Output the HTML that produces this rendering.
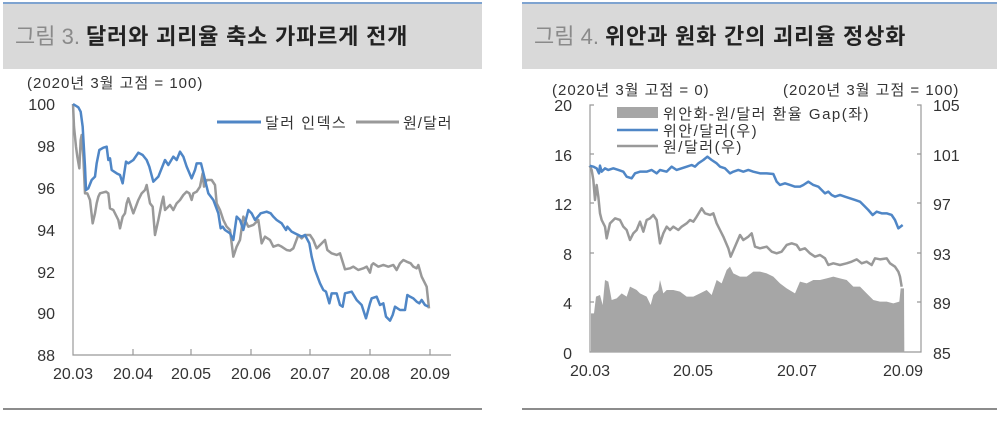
<!DOCTYPE html>
<html><head><meta charset="utf-8"><style>
body{margin:0;background:#fff;width:1000px;height:416px;overflow:hidden;font-family:"Liberation Sans","Noto Sans CJK KR",sans-serif}
svg text{font-family:"Liberation Sans","Noto Sans CJK KR",sans-serif}
</style></head><body>
<svg width="1000" height="416" xmlns="http://www.w3.org/2000/svg">
<rect x="3" y="3" width="479" height="66" fill="#d9d9d9"/>
<rect x="3" y="2" width="479" height="2" fill="#7ea3d0"/>
<rect x="522" y="3" width="475" height="66" fill="#d9d9d9"/>
<rect x="522" y="2" width="475" height="2" fill="#7ea3d0"/>
<text x="15" y="44" font-size="22" fill="#8a8a8a">그림 3.</text>
<text x="86" y="44" font-size="22" font-weight="bold" fill="#222" letter-spacing="0.8">달러와 괴리율 축소 가파르게 전개</text>
<text x="534" y="44" font-size="22" fill="#8a8a8a">그림 4.</text>
<text x="605" y="44" font-size="22" font-weight="bold" fill="#222" letter-spacing="0.8">위안과 원화 간의 괴리율 정상화</text>
<rect x="3" y="408" width="479" height="2" fill="#8c8c8c"/>
<rect x="522" y="408" width="475" height="2" fill="#8c8c8c"/>

<g font-size="16" fill="#333">
<text x="27" y="88" font-size="15" letter-spacing="1">(2020년 3월 고점 = 100)</text>
<g text-anchor="end"><text x="55" y="110">100</text><text x="55" y="152">98</text><text x="55" y="194">96</text><text x="55" y="236">94</text><text x="55" y="278">92</text><text x="55" y="319">90</text><text x="55" y="361">88</text></g>
<g text-anchor="middle"><text x="73" y="379">20.03</text><text x="133" y="379">20.04</text><text x="191" y="379">20.05</text><text x="251" y="379">20.06</text><text x="310" y="379">20.07</text><text x="370" y="379">20.08</text><text x="430" y="379">20.09</text></g>
</g>
<g stroke="#999" stroke-width="1.2" fill="none">
<path d="M73 104V355H451"/>
<path d="M133 349V355M191 349V355M251 349V355M310 349V355M370 349V355M430 349V355"/>
</g>
<line x1="217" y1="122" x2="261" y2="122" stroke="#4f86c6" stroke-width="3"/>
<text x="265" y="128" font-size="15" fill="#333" letter-spacing="1.5">달러 인덱스</text>
<line x1="356" y1="122" x2="399" y2="122" stroke="#999" stroke-width="3"/>
<text x="403" y="128" font-size="15" fill="#333" letter-spacing="1">원/달러</text>
<g transform="scale(0.33333)" fill="none" stroke-width="7.5" stroke-linejoin="round">
<polyline stroke="#999" points="219,312 222,380 228,440 232,470 238,505 242,420 245,405 250,470 255,580 262,580 270,600 278,670 285,640 290,610 295,590 300,580 318,575 325,580 330,625 340,630 355,660 360,685 368,650 375,640 380,610 385,595 390,610 400,640 415,600 425,580 435,570 440,555 450,610 458,620 465,705 475,660 485,610 490,590 495,630 510,615 520,630 530,610 540,600 550,585 560,575 568,580 575,600 580,580 590,575 600,560 608,520 612,560 620,540 635,540 645,555 650,610 660,630 670,660 680,680 690,690 700,770 710,740 720,720 730,650 740,670 745,680 760,675 775,660 785,730 795,710 810,720 820,740 835,735 845,740 860,750 870,752 880,745 895,705 905,715 915,705 930,705 940,720 950,745 965,730 975,720 982,750 995,760 1010,765 1020,760 1035,808 1050,805 1060,800 1075,810 1090,805 1100,800 1110,818 1115,795 1120,790 1135,800 1150,795 1165,800 1180,795 1190,810 1200,790 1210,780 1220,785 1232,790 1240,800 1250,805 1255,795 1265,830 1275,850 1280,860 1287,925"/>
<polyline stroke="#4f86c6" points="219,312 235,322 242,335 248,380 255,500 258,570 265,565 275,540 285,530 290,490 298,450 310,443 320,440 325,480 330,475 335,510 350,520 360,525 368,550 378,485 385,490 400,480 415,458 428,465 440,480 448,500 460,545 475,530 495,480 505,495 520,470 530,480 540,455 550,470 560,500 575,535 585,510 590,490 603,490 608,510 620,560 625,580 640,600 655,640 662,685 668,680 675,690 690,700 700,720 710,650 720,660 730,690 745,630 755,640 765,660 778,645 782,640 800,635 812,640 820,650 830,660 845,670 858,690 862,680 875,695 885,700 895,705 905,710 915,705 928,730 935,770 945,810 960,850 970,870 978,875 988,910 995,880 1010,880 1020,915 1028,920 1035,880 1055,875 1070,900 1085,915 1098,955 1110,910 1115,895 1130,890 1140,915 1150,910 1158,950 1170,962 1178,945 1185,920 1200,930 1215,930 1222,885 1230,890 1240,895 1250,905 1258,910 1265,900 1275,915 1285,920"/>
</g>

<g font-size="16" fill="#333">
<text x="552" y="95" font-size="15" letter-spacing="1">(2020년 3월 고점 = 0)</text>
<text x="783" y="95" font-size="15" letter-spacing="1">(2020년 3월 고점 = 100)</text>
<g text-anchor="end"><text x="572" y="111">20</text><text x="572" y="161">16</text><text x="572" y="210">12</text><text x="572" y="260">8</text><text x="572" y="309">4</text><text x="572" y="359">0</text></g>
<g><text x="933" y="111">105</text><text x="933" y="161">101</text><text x="933" y="210">97</text><text x="933" y="260">93</text><text x="933" y="309">89</text><text x="933" y="359">85</text></g>
<g text-anchor="middle"><text x="590" y="376">20.03</text><text x="693" y="376">20.05</text><text x="797" y="376">20.07</text><text x="903" y="376">20.09</text></g>
</g>
<g stroke="#999" stroke-width="1.2" fill="none">
<path d="M594 105H590V352H921V105H917"/>
<path d="M590 154H594M590 203H594M590 253H594M590 302H594M921 154H917M921 203H917M921 253H917M921 302H917M693 352V347M797 352V347M903 352V347"/>
</g>
<g transform="translate(520,0) scale(0.33333)">
<polygon fill="#a6a6a6" points="213,1057 213,940 222,940 228,890 240,885 248,915 255,840 265,845 275,900 290,895 305,880 320,890 330,860 350,870 360,880 380,890 392,915 400,885 415,870 420,840 430,880 440,870 460,870 480,875 500,890 520,890 540,880 560,870 575,885 590,840 605,850 620,810 630,800 640,820 660,830 680,830 700,815 720,815 740,820 760,830 780,850 800,865 825,880 840,845 860,850 880,840 900,840 920,835 940,830 960,835 980,840 1000,860 1020,860 1040,880 1060,900 1080,905 1100,905 1120,910 1138,905 1142,865 1152,865 1153,1057"/>
<g fill="none" stroke-width="7.5" stroke-linejoin="round">
<polyline stroke="#999" points="209,497 215,510 220,540 225,600 230,555 235,590 240,640 245,660 255,680 260,715 270,670 285,655 300,660 310,680 320,690 330,720 340,700 350,690 360,665 370,695 380,660 390,655 400,645 410,660 420,730 430,700 440,680 450,690 460,680 475,690 485,680 500,670 510,660 520,665 530,650 545,625 555,640 570,645 580,640 590,670 600,690 610,710 625,745 632,770 645,740 660,705 670,720 685,710 695,700 705,740 720,745 740,740 755,755 770,760 785,755 800,735 815,730 830,735 840,750 855,745 870,760 885,770 900,765 915,775 925,795 940,790 960,795 980,790 995,785 1010,778 1025,790 1040,785 1055,795 1065,775 1080,778 1100,775 1110,790 1125,800 1135,815 1140,830 1145,860"/>
<polyline stroke="#4f86c6" points="209,497 220,500 230,505 237,520 240,497 245,515 255,505 265,510 280,505 295,510 310,515 320,530 335,535 345,520 360,515 380,515 395,510 410,520 420,510 440,515 455,500 470,510 485,505 500,500 515,495 525,500 535,490 550,480 562,470 575,480 590,490 600,500 615,505 630,520 640,515 655,510 670,515 685,510 700,515 720,520 740,520 760,522 770,545 780,555 795,550 810,555 825,560 840,560 850,555 865,545 880,555 895,560 905,570 915,580 925,575 935,585 945,590 960,585 975,590 990,595 1005,600 1020,605 1035,620 1045,630 1058,645 1070,635 1085,640 1100,640 1115,645 1125,660 1135,685 1148,675"/>
</g>
</g>
<rect x="617" y="107" width="41" height="11" fill="#a6a6a6"/>
<line x1="617" y1="130" x2="658" y2="130" stroke="#4f86c6" stroke-width="2.5"/>
<line x1="617" y1="146" x2="658" y2="146" stroke="#999" stroke-width="2.5"/>
<g font-size="15" fill="#333" letter-spacing="1.5">
<text x="663" y="119">위안화-원/달러 환율 Gap(좌)</text>
<text x="663" y="136">위안/달러(우)</text>
<text x="663" y="152">원/달러(우)</text>
</g>
</svg>
</body></html>
